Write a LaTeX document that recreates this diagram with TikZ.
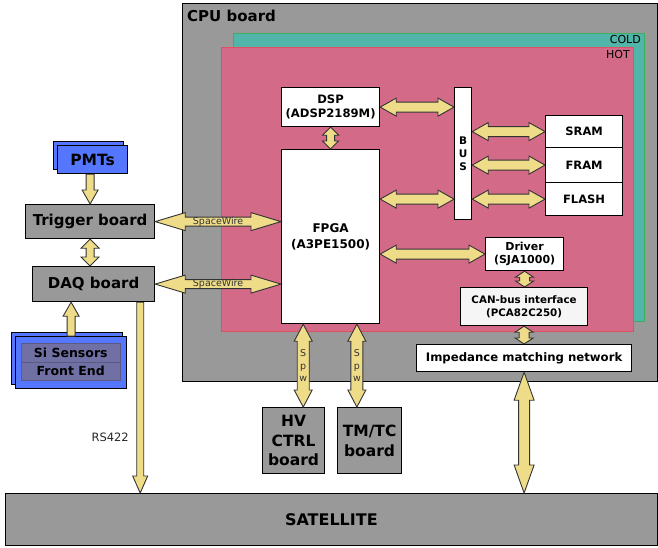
\documentclass[tikz,border=0pt]{standalone}
\usepackage{fontspec}
\setmainfont{DejaVu Sans}
\usetikzlibrary{calc}
\definecolor{boardgray}{HTML}{999999}
\definecolor{coldfill}{HTML}{52B5AA}
\definecolor{coldline}{HTML}{3CB060}
\definecolor{hotfill}{HTML}{D26A88}
\definecolor{hotline}{HTML}{E0505F}
\definecolor{arrowyellow}{HTML}{EEDC88}
\definecolor{arrowline}{HTML}{333333}
\definecolor{pmtblue}{HTML}{5577FF}
\definecolor{sipurple}{HTML}{7070A4}
\definecolor{canfill}{HTML}{F5F5F5}
\tikzset{
  box/.style={draw=black, line width=1.2pt, inner sep=0pt, anchor=north west, align=center, font=\bfseries},
  whitebox/.style={box, fill=white},
  graybox/.style={box, fill=boardgray},
  bluebox/.style={box, fill=pmtblue},
  fat/.style={fill=arrowyellow, draw=arrowline, line width=0.9pt, line join=miter},
  arrowtext/.style={inner sep=0pt, font=\fontsize{9.5}{10}\selectfont, text=black!80}
}
% double-headed fat arrow: from, to, shaft half width, head half width, head length
\newcommand\dbarrow[5]{%
  \draw[fat] (#1) -- ($(#1)!#5!(#2)!#4!90:(#2)$) -- ($(#1)!#5!(#2)!#3!90:(#2)$)
    -- ($(#2)!#5!(#1)!#3!-90:(#1)$) -- ($(#2)!#5!(#1)!#4!-90:(#1)$) -- (#2)
    -- ($(#2)!#5!(#1)!#4!90:(#1)$) -- ($(#2)!#5!(#1)!#3!90:(#1)$)
    -- ($(#1)!#5!(#2)!#3!-90:(#2)$) -- ($(#1)!#5!(#2)!#4!-90:(#2)$) -- cycle;}
% single-headed fat arrow (tip at second point)
\newcommand\sgarrow[5]{%
  \draw[fat] ($(#1)!#3!90:(#2)$) -- ($(#2)!#5!(#1)!#3!-90:(#1)$) -- ($(#2)!#5!(#1)!#4!-90:(#1)$)
    -- (#2) -- ($(#2)!#5!(#1)!#4!90:(#1)$) -- ($(#2)!#5!(#1)!#3!90:(#1)$)
    -- ($(#1)!#3!-90:(#2)$) -- cycle;}
\begin{document}
\begin{tikzpicture}[x=1pt,y=-1pt]
\useasboundingbox (0,0) rectangle (658,547);
% CPU board and thermal zones
\node[graybox, minimum width=474.5, minimum height=378] (cpu) at (182,3) {};
\node[anchor=west, inner sep=0pt, font=\bfseries\fontsize{15}{17}\selectfont] (cpulabel) at (187,16) {CPU board};
\node[box, draw=coldline, line width=1.4pt, fill=coldfill, minimum width=411, minimum height=288] (cold) at (233,33) {};
\node[anchor=north east, inner sep=0pt, font=\fontsize{11}{12}\selectfont] (coldlabel) at (641,35) {COLD};
\node[box, draw=hotline, line width=1.4pt, fill=hotfill, minimum width=412, minimum height=284] (hot) at (221,47) {};
\node[anchor=north east, inner sep=0pt, font=\fontsize{11}{12}\selectfont] (hotlabel) at (630,50) {HOT};
% inner blocks
\node[whitebox, minimum width=98, minimum height=39, font=\bfseries\fontsize{11.6}{14}\selectfont] (dsp) at (281,87) {DSP\\(ADSP2189M)};
\node[whitebox, minimum width=98, minimum height=174, font=\bfseries\fontsize{12}{15.5}\selectfont] (fpga) at (281,149) {FPGA\\(A3PE1500)};
\node[whitebox, minimum width=17, minimum height=132, font=\bfseries\fontsize{10.5}{13}\selectfont] (bus) at (454,87) {B\\U\\S};
\node[whitebox, minimum width=77, minimum height=32, font=\bfseries\fontsize{11.5}{13}\selectfont] (sram) at (545,115) {SRAM};
\node[whitebox, minimum width=77, minimum height=35, font=\bfseries\fontsize{11.5}{13}\selectfont] (fram) at (545,147) {FRAM};
\node[whitebox, minimum width=77, minimum height=33, font=\bfseries\fontsize{11.5}{13}\selectfont] (flash) at (545,182) {FLASH};
\node[whitebox, minimum width=78, minimum height=33, font=\bfseries\fontsize{11}{13}\selectfont] (drv) at (485,237) {Driver\\(SJA1000)};
\node[box, fill=canfill, minimum width=127, minimum height=38, font=\bfseries\fontsize{10.3}{13}\selectfont] (can) at (460,287) {CAN-bus interface\\(PCA82C250)};
\node[whitebox, minimum width=215, minimum height=27, font=\bfseries\fontsize{11.7}{13}\selectfont] (imp) at (416,344) {Impedance matching network};
% boards below
\node[graybox, minimum width=62, minimum height=66, font=\bfseries\fontsize{15.5}{19.5}\selectfont] (hv) at (262,407) {HV\\CTRL\\board};
\node[graybox, minimum width=64, minimum height=66, font=\bfseries\fontsize{15.5}{19.5}\selectfont] (tmtc) at (337,407) {TM/TC\\board};
\node[graybox, minimum width=651.5, minimum height=52, font=\bfseries\fontsize{16}{18}\selectfont] (sat) at (5,493) {SATELLITE};
% left side
\node[bluebox, minimum width=70, minimum height=28] (pmtback) at (53,141) {};
\node[bluebox, minimum width=70, minimum height=28, font=\bfseries\fontsize{15.5}{17}\selectfont] (pmt) at (57,145) {PMTs};
\node[graybox, minimum width=129, minimum height=34, font=\bfseries\fontsize{15}{17}\selectfont] (trig) at (25,204) {Trigger board};
\node[graybox, minimum width=122, minimum height=35, font=\bfseries\fontsize{15}{17}\selectfont] (daq) at (32,266) {DAQ board};
\node[bluebox, minimum width=111, minimum height=52] (siback) at (11,332) {};
\node[bluebox, minimum width=111, minimum height=52] (si) at (15,336) {};
\node[box, draw=sipurple!80!black, line width=0.6pt, fill=sipurple, minimum width=99, minimum height=19, font=\bfseries\fontsize{12.5}{14}\selectfont] (sisens) at (21,343) {Si Sensors};
\node[box, draw=sipurple!80!black, line width=0.6pt, fill=sipurple, minimum width=99, minimum height=18, font=\bfseries\fontsize{12.5}{14}\selectfont] (sife) at (21,362) {Front End};
% arrow end points
\coordinate (pa) at (trig.north |- pmt.south);
\coordinate (tda) at (trig.south |- daq.north);
\coordinate (sia) at (si.north |- daq.south);
\coordinate (sw1) at (fpga.west |- trig.east);
\coordinate (sw2) at (fpga.west |- daq.east);
\coordinate (dspb) at (bus.west |- dsp.east);
\coordinate (fpb1) at (fpga.east |- flash.west);
\coordinate (fpb2) at (bus.west |- flash.west);
\coordinate (bs) at (bus.east |- sram.west);
\coordinate (bf) at (bus.east |- fram.west);
\coordinate (bfl) at (bus.east |- flash.west);
\coordinate (fdrv) at (fpga.east |- drv.west);
\coordinate (drvcan) at (drv.south |- can.north);
\coordinate (canimp) at (can.south |- imp.north);
\coordinate (impsat) at (imp.south |- sat.north);
\coordinate (spw1a) at ($(fpga.south west)!0.224!(fpga.south east)$);
\coordinate (spw1b) at (spw1a |- hv.north);
\coordinate (spw2a) at ($(fpga.south west)!0.765!(fpga.south east)$);
\coordinate (spw2b) at (spw2a |- tmtc.north);
\coordinate (rsa) at ($(daq.south east)+(-15,0)$);
\coordinate (rsb) at (rsa |- sat.north);
% arrows
\sgarrow{pa}{trig.north}{4pt}{8pt}{14pt}
\dbarrow{trig.south}{tda}{4pt}{9pt}{9pt}
\sgarrow{si.north}{sia}{4pt}{8pt}{14pt}
\dbarrow{trig.east}{sw1}{4.5pt}{9pt}{30pt}
\dbarrow{daq.east}{sw2}{4.5pt}{9pt}{30pt}
\node[arrowtext] (swlab1) at ($(trig.east)!0.5!(sw1)$) {SpaceWire};
\node[arrowtext] (swlab2) at ($(daq.east)!0.5!(sw2)$) {SpaceWire};
\dbarrow{dsp.east}{dspb}{5pt}{9pt}{16pt}
\dbarrow{fpb1}{fpb2}{5pt}{9pt}{16pt}
\dbarrow{bs}{sram.west}{5pt}{9pt}{16pt}
\dbarrow{bf}{fram.west}{5pt}{9pt}{16pt}
\dbarrow{bfl}{flash.west}{5pt}{9pt}{16pt}
\dbarrow{fdrv}{drv.west}{5pt}{9pt}{16pt}
\dbarrow{dsp.south}{fpga.north}{4pt}{8pt}{8pt}
\dbarrow{drv.south}{drvcan}{5pt}{9pt}{6pt}
\dbarrow{can.south}{canimp}{5pt}{9pt}{6pt}
\dbarrow{imp.south}{impsat}{5.5pt}{10pt}{28pt}
\dbarrow{spw1a}{spw1b}{6pt}{9pt}{17pt}
\dbarrow{spw2a}{spw2b}{6pt}{9pt}{17pt}
\node[arrowtext, align=center, font=\fontsize{9.5}{12.5}\selectfont] (spwlab1) at ($(spw1a)!0.5!(spw1b)$) {S\\p\\w};
\node[arrowtext, align=center, font=\fontsize{9.5}{12.5}\selectfont] (spwlab2) at ($(spw2a)!0.5!(spw2b)$) {S\\p\\w};
\sgarrow{rsa}{rsb}{3.5pt}{7.5pt}{17pt}
\node[anchor=east, inner sep=0pt, font=\fontsize{11.5}{13}\selectfont, text=black!85] (rslab) at (129,437) {RS422};
\end{tikzpicture}
\end{document}
